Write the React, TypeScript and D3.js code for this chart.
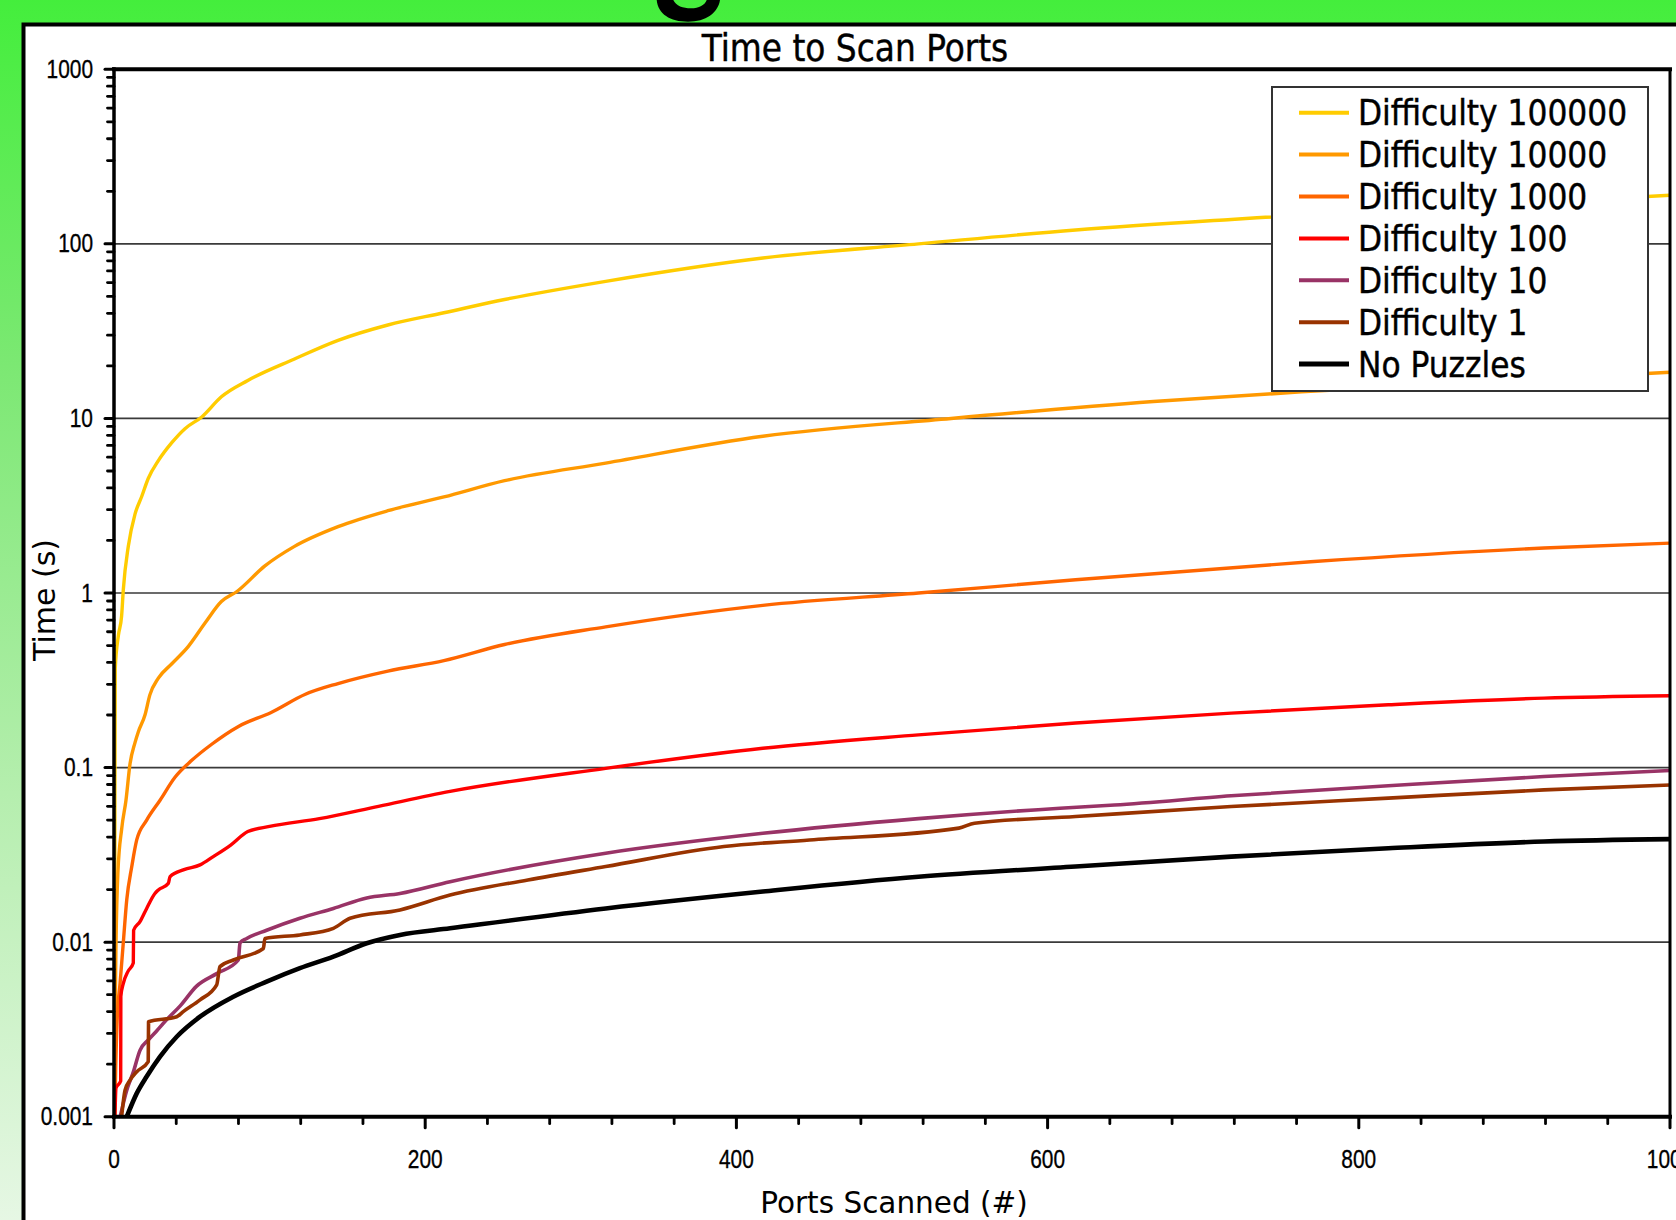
import React from "react";
import * as d3 from "d3";

const W = 1676;
const H = 1220;

const chartTitle = "Time to Scan Ports";
const xTitle = "Ports Scanned (#)";
const yTitle = "Time (s)";

const seriesNames = [
  "Difficulty 100000",
  "Difficulty 10000",
  "Difficulty 1000",
  "Difficulty 100",
  "Difficulty 10",
  "Difficulty 1",
  "No Puzzles",
];
const seriesColors = ["#FFCC00", "#FF9900", "#FF6600", "#FF0000", "#993366", "#993300", "#000000"];

const xTicksMajor = [0, 200, 400, 600, 800, 1000];
const yTicksMajor = [0.001, 0.01, 0.1, 1, 10, 100, 1000];
const yTickLabels = ["0.001", "0.01", "0.1", "1", "10", "100", "1000"];

const difficulty100000: [number, number][] = [
  [0.3, 0.0012], [0.6, 0.07], [0.8, 0.37], [2.8, 0.57], [4.9, 0.74], [6, 1.05], [9.2, 1.85],
  [13.5, 2.83], [17.8, 3.57], [22, 4.53], [28.5, 5.73], [37, 7.24], [45.6, 8.74], [56.4, 10.2],
  [69, 13.3], [86, 16.5], [116, 21.9], [144, 28], [176, 34.3], [212, 40.3], [251, 48],
  [316, 61], [417, 83], [517, 100], [618, 120], [718, 138], [740, 142], [1000, 190],
];
const difficulty10000: [number, number][] = [
  [0.3, 0.0012], [0.6, 0.003], [1.3, 0.01], [2.5, 0.025], [5, 0.045], [7.7, 0.065], [10.3, 0.105],
  [13.5, 0.139], [15.6, 0.16], [19.9, 0.2], [23, 0.26], [28.5, 0.325], [37, 0.392], [47.8, 0.495],
  [58.5, 0.673], [69, 0.893], [79, 1.02], [97, 1.43], [116, 1.85], [144, 2.4], [176, 2.96],
  [212, 3.55], [251, 4.4], [316, 5.55], [417, 7.9], [538, 10], [668, 12.5], [769, 14.3], [1000, 18.4],
];
const difficulty1000: [number, number][] = [
  [0.5, 0.001], [1.1, 0.0019], [2.1, 0.0037], [3.9, 0.0058], [6, 0.01], [8.2, 0.0175], [11.4, 0.027],
  [14.6, 0.0385], [21, 0.05], [29.6, 0.065], [39.2, 0.088], [50, 0.11], [62.8, 0.136], [80, 0.172],
  [101, 0.207], [123, 0.263], [144, 0.303], [176, 0.357], [212, 0.41], [251, 0.507], [316, 0.64],
  [417, 0.85], [517, 1.0], [618, 1.19], [769, 1.51], [919, 1.81], [1000, 1.93],
];
const difficulty100: [number, number][] = [
  [0.6, 0.001], [1.3, 0.00146], [4.3, 0.0016], [4.4, 0.0049], [6, 0.0058], [9, 0.0068], [12.4, 0.0076],
  [12.6, 0.0117], [16.7, 0.0131], [21, 0.0156], [26.3, 0.019], [28.5, 0.0199], [34.9, 0.0217],
  [36, 0.0237], [45, 0.026], [55.3, 0.0277], [63.8, 0.0309], [75, 0.036], [86, 0.043], [100, 0.046],
  [132, 0.051], [170, 0.06], [216, 0.073], [316, 0.099], [417, 0.129], [517, 0.154], [618, 0.18],
  [718, 0.205], [819, 0.229], [919, 0.25], [1000, 0.258],
];
const difficulty10: [number, number][] = [
  [4, 0.001], [8, 0.0014], [12.4, 0.0018], [16.7, 0.0024], [22, 0.00275], [27.4, 0.0031],
  [33.9, 0.0036], [42.4, 0.0043], [53.1, 0.0056], [66, 0.0066], [79.9, 0.0079], [81, 0.0099],
  [85.3, 0.0105], [98.1, 0.0117], [119.5, 0.0137], [141, 0.0156], [162.4, 0.0179], [183.8, 0.019],
  [216, 0.0222], [316, 0.0323], [417, 0.042], [517, 0.051], [608, 0.0585], [643, 0.061],
  [718, 0.0689], [819, 0.0786], [919, 0.0888], [1000, 0.0962],
];
const difficulty1: [number, number][] = [
  [4.9, 0.001], [7.1, 0.00142], [10.3, 0.00162], [14.6, 0.00181], [22, 0.00207], [22.2, 0.0035],
  [40.3, 0.00374], [44.5, 0.004], [55.3, 0.00467], [66, 0.00569], [68.1, 0.00724], [76.7, 0.0079],
  [96, 0.0092], [97, 0.0105], [119.5, 0.011], [141, 0.012], [151.7, 0.0137], [183.8, 0.0153],
  [216, 0.0186], [266, 0.0227], [316, 0.0271], [392, 0.0353], [447, 0.0385], [543, 0.045],
  [553, 0.048], [618, 0.0524], [718, 0.0598], [819, 0.0668], [919, 0.0745], [1000, 0.0795],
];
const noPuzzles: [number, number][] = [
  [8.2, 0.001], [14.6, 0.00136], [21, 0.0017], [29.6, 0.00221], [40.3, 0.00287], [55.3, 0.00374],
  [76.7, 0.00487], [98.1, 0.00594], [119.5, 0.00709], [141, 0.00826], [162.4, 0.00986],
  [183.8, 0.011], [216, 0.012], [316, 0.0156], [417, 0.0195], [517, 0.0237], [618, 0.0271],
  [718, 0.0309], [819, 0.0345], [919, 0.0377], [1000, 0.0389],
];

const seriesData = [difficulty100000, difficulty10000, difficulty1000, difficulty100, difficulty10, difficulty1, noPuzzles];
const seriesWidths = [3.4, 3.4, 3.4, 3.4, 3.6, 3.6, 4.6];

const PL = 114, PR = 1670, PT = 69.3, PB = 1116.7;

export default function App() {
  const x = d3.scaleLinear().domain([0, 1000]).range([PL, PR]);
  const y = d3.scaleLog().domain([0.001, 1000]).range([PB, PT]);
  const line = d3
    .line<[number, number]>()
    .x((d) => x(d[0]))
    .y((d) => y(d[1]))
    .curve(d3.curveMonotoneX);

  const minorY: number[] = [];
  for (let k = -3; k < 3; k++) for (let m = 2; m <= 9; m++) minorY.push(m * Math.pow(10, k));
  const minorX: number[] = d3.range(0, 1001, 40).filter((v) => v % 200 !== 0);

  const tickFont = "'Liberation Sans', Arial, sans-serif";
  const condFont = "'DejaVu Sans Condensed', 'DejaVu Sans', sans-serif";
  const wideFont = "'DejaVu Sans', Verdana, sans-serif";

  const legX = 1272, legY = 87, legW = 376, legH = 304;

  return (
    <svg width={W} height={H} style={{ position: "absolute", left: 0, top: 0 }} xmlns="http://www.w3.org/2000/svg">
      <defs>
        <linearGradient id="bg" x1="0" y1="0" x2="0" y2="1">
          <stop offset="0" stopColor="#44ee3c" />
          <stop offset="0.3" stopColor="#7ce873" />
          <stop offset="0.65" stopColor="#b5eeae" />
          <stop offset="1" stopColor="#e6f7e4" />
        </linearGradient>
        <clipPath id="plotClip">
          <rect x={PL} y={PT} width={PR - PL} height={PB - PT} />
        </clipPath>
      </defs>
      <rect x={0} y={0} width={W} height={H} fill="url(#bg)" />
      <path
        d="M656.7,0 C658,14 670,21.7 688,21.7 C706,21.7 718,13 720,0 Z M673.3,0 C676,6 683,8.3 691,8.3 C699,8.3 705,5 706.7,0 Z"
        fill="#000"
        fillRule="evenodd"
      />
      <rect x={23.5} y={24.5} width={1720} height={1300} fill="#fff" stroke="#000" strokeWidth={4} />

      <text x={855} y={61} textAnchor="middle" fontFamily={condFont} fontSize={36.5} fill="#000" stroke="#000" strokeWidth={0.4}>
        {chartTitle}
      </text>

      {/* gridlines */}
      {yTicksMajor.slice(1, -1).map((v) => (
        <line key={"g" + v} x1={PL} x2={PR} y1={y(v)} y2={y(v)} stroke="#3a3a3a" strokeWidth={1.7} />
      ))}

      {/* series */}
      <g clipPath="url(#plotClip)">
        {seriesData.map((s, i) => (
          <path key={i} d={line(s) || ""} fill="none" stroke={seriesColors[i]} strokeWidth={seriesWidths[i]} strokeLinejoin="round" />
        ))}
      </g>

      {/* frame */}
      <line x1={PL - 2} x2={PR + 2} y1={PT} y2={PT} stroke="#000" strokeWidth={4} />
      <line x1={PR} x2={PR} y1={PT} y2={PB} stroke="#000" strokeWidth={3} />
      <line x1={PL} x2={PL} y1={PT - 2} y2={PB + 2} stroke="#000" strokeWidth={3.5} />
      <line x1={PL - 2} x2={PR + 2} y1={PB} y2={PB} stroke="#000" strokeWidth={4} />

      {/* y ticks */}
      {yTicksMajor.map((v) => (
        <line key={"ym" + v} x1={PL - 9} x2={PL} y1={y(v)} y2={y(v)} stroke="#000" strokeWidth={3} strokeLinecap="round" />
      ))}
      {minorY.map((v) => (
        <line key={"yn" + v} x1={PL - 6.5} x2={PL} y1={y(v)} y2={y(v)} stroke="#000" strokeWidth={2.8} strokeLinecap="round" />
      ))}
      {yTicksMajor.map((v, i) => (
        <text
          key={"yl" + v}
          transform={`translate(93,${y(v) + 8.5}) scale(0.82,1)`}
          textAnchor="end"
          fontFamily={tickFont}
          fontSize={25.5}
          fill="#000"
          stroke="#000"
          strokeWidth={0.35}
        >
          {yTickLabels[i]}
        </text>
      ))}

      {/* x ticks */}
      {xTicksMajor.map((v) => (
        <line key={"xm" + v} x1={x(v)} x2={x(v)} y1={PB} y2={PB + 11} stroke="#000" strokeWidth={3} strokeLinecap="round" />
      ))}
      {minorX.map((v) => (
        <line key={"xn" + v} x1={x(v)} x2={x(v)} y1={PB} y2={PB + 7} stroke="#000" strokeWidth={2.8} strokeLinecap="round" />
      ))}
      {xTicksMajor.map((v) => (
        <text
          key={"xl" + v}
          transform={`translate(${x(v)},1168) scale(0.82,1)`}
          textAnchor="middle"
          fontFamily={tickFont}
          fontSize={25.5}
          fill="#000"
          stroke="#000"
          strokeWidth={0.35}
        >
          {String(v)}
        </text>
      ))}

      {/* axis titles */}
      <text x={894} y={1213} textAnchor="middle" fontFamily={wideFont} fontSize={29.5} fill="#000">
        {xTitle}
      </text>
      <text transform={`translate(55,600) rotate(-90)`} textAnchor="middle" fontFamily={wideFont} fontSize={30} fill="#000">
        {yTitle}
      </text>

      {/* legend */}
      <rect x={legX} y={legY} width={legW} height={legH} fill="#fff" stroke="#333" strokeWidth={2} />
      {seriesNames.map((n, i) => {
        const ly = 112.7 + i * 41.9;
        return (
          <g key={n}>
            <line x1={1299} x2={1349} y1={ly} y2={ly} stroke={seriesColors[i]} strokeWidth={i === 6 ? 5 : 4} />
            <text x={1358} y={ly + 12.5} fontFamily={condFont} fontSize={34.8} fill="#000" stroke="#000" strokeWidth={0.4}>
              {n}
            </text>
          </g>
        );
      })}
    </svg>
  );
}
